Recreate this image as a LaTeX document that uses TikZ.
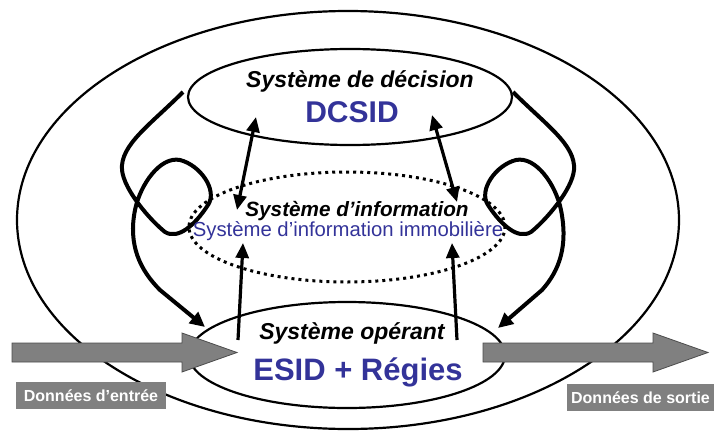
\documentclass[tikz,border=0pt]{standalone}
\usepackage{fontspec}
\setmainfont{Liberation Sans}
\usetikzlibrary{positioning,arrows.meta,shapes.geometric}
\definecolor{sysblue}{RGB}{51,51,153}
\definecolor{flowgrey}{RGB}{128,128,128}

\begin{document}
\begin{tikzpicture}[x=1pt,y=-1pt,
  sys/.style={draw,ellipse,line width=2.2pt,inner sep=0pt},
  dots/.style={sys,line width=3pt,dash pattern=on 3pt off 4pt},
  ttl/.style={anchor=base,inner sep=0pt,font=\fontsize{23}{25}\selectfont\bfseries\itshape},
  big/.style={anchor=base,inner sep=0pt,text=sysblue,font=\fontsize{30}{32}\selectfont\bfseries},
  sub/.style={anchor=base,inner sep=0pt,text=sysblue,font=\fontsize{20.3}{22}\selectfont},
  link/.style={line width=3.2pt,{Triangle[length=15pt,width=13pt]}-{Triangle[length=15pt,width=13pt]}},
  feed/.style={line width=3.2pt,-{Triangle[length=15pt,width=13pt]}},
  loop/.style={line width=4pt,line join=round,-{Triangle[length=15pt,width=14pt]}},
  flow/.style={draw=black!70,line width=0.8pt,fill=flowgrey},
  tag/.style={fill=flowgrey,text=white,inner sep=0pt,minimum height=27pt,
              font=\fontsize{16}{18}\selectfont\bfseries}
]
\useasboundingbox (0,0) rectangle (714,431);
% systems
\node[sys,minimum width=662pt,minimum height=418pt] (env) at (348,220) {};
\node[sys,minimum width=324pt,minimum height=96pt] (dec) at (350,97) {};
\node[dots,minimum width=316pt,minimum height=110pt] (info) at (347,227) {};
\node[sys,minimum width=316pt,minimum height=106pt] (op) at (347,355) {};
% arrow ends inside the ellipses
\coordinate (decL) at (256,117);  \coordinate (decR) at (432,115);
\coordinate (infoTL) at (237,210); \coordinate (infoTR) at (457,202);
\coordinate (infoBL) at (243,243); \coordinate (infoBR) at (452,243);
\coordinate (opL) at (238,340);   \coordinate (opR) at (457,340);
% regulation loops
\draw[loop] (183,92) .. controls (150,125) and (120,145) .. (122,170)
  .. controls (124,190) and (150,220) .. (165,232)
  .. controls (178,240) and (195,225) .. (208,205)
  .. controls (218,190) and (200,165) .. (180,160)
  .. controls (160,156) and (140,185) .. (135,210)
  .. controls (128,245) and (140,270) .. (160,290) -- (205,327);
\draw[loop] (513,92) .. controls (546,125) and (576,145) .. (574,170)
  .. controls (572,190) and (546,220) .. (531,232)
  .. controls (518,240) and (501,225) .. (488,205)
  .. controls (478,190) and (496,165) .. (516,160)
  .. controls (536,156) and (556,185) .. (561,210)
  .. controls (568,245) and (560,270) .. (542,290) -- (498,328);
% exchanges
\draw[link] (infoTL) -- (decL);
\draw[link] (infoTR) -- (decR);
\draw[feed] (opL) -- (infoBL);
\draw[feed] (opR) -- (infoBR);
% inputs and outputs
\foreach \x/\n in {12/in,483/out} {
  \draw[flow] (\x,343) -- ++(170,0) -- ++(0,-10) -- ++(55,19.5) -- ++(-55,19.5)
    -- ++(0,-10) -- ++(-170,0) -- cycle;
  \coordinate (\n) at (\x,352.5);
}
\node[tag,minimum width=150pt] (inlab) at (91,395.5) {Données d’entrée};
\node[tag,minimum width=147pt] (outlab) at (640.5,397.5) {Données de sortie};
% texts
\node[ttl] (decT) at (360,87) {Système de décision};
\node[big] (decN) at (352,122) {DCSID};
\node[ttl,font=\fontsize{20.7}{22}\selectfont\bfseries\itshape] (infoT) at (357,216) {Système d’information};
\node[sub] (infoN) at (348,236) {Système d’information immobilière};
\node[ttl] (opT) at (352,339) {Système opérant};
\node[big,font=\fontsize{31}{33}\selectfont\bfseries] (opN) at (358,380) {ESID + Régies};
\end{tikzpicture}
\end{document}
